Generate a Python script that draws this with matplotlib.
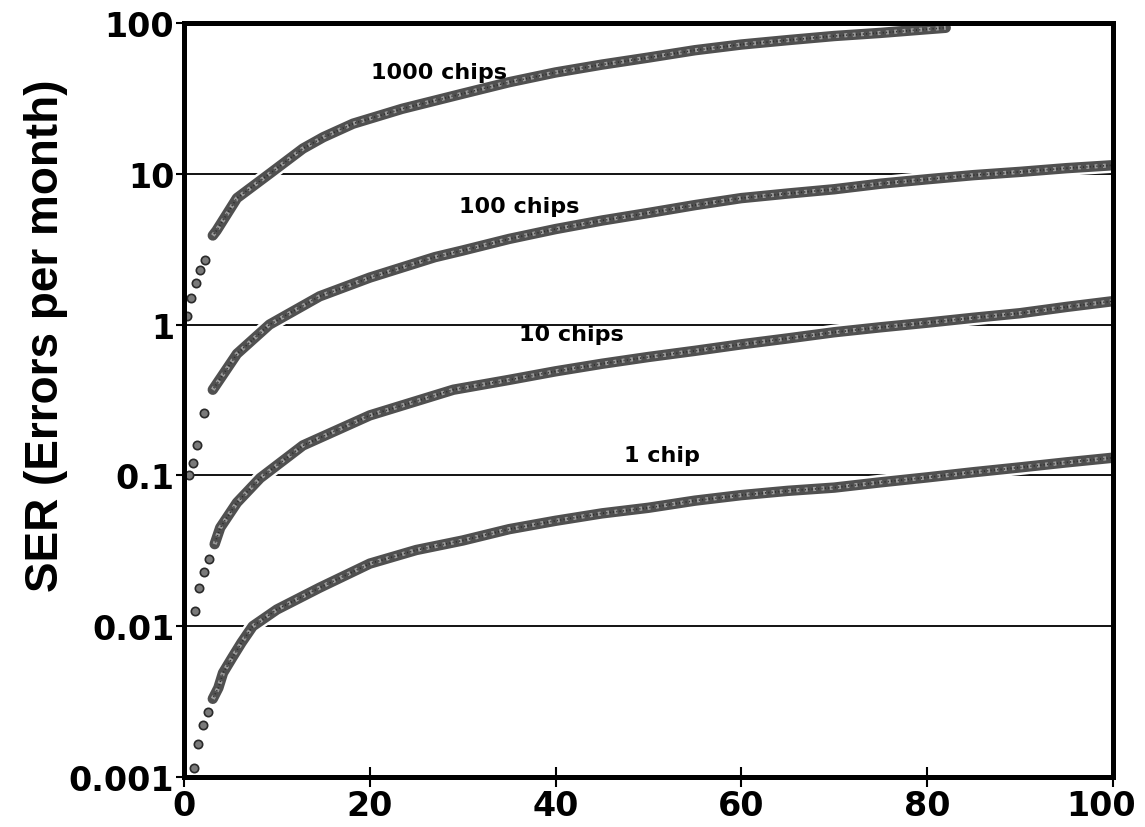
import numpy as np
import matplotlib
matplotlib.use("Agg")
import matplotlib.pyplot as plt
import matplotlib.patheffects as pe
from matplotlib.transforms import ScaledTranslation

# values (x = time, y = SER in errors per month)
x_1000 = [0.3, 0.75, 1.3, 1.7, 2.3, 3.1, 3.5, 5.7, 9.2, 12.8, 15, 18.2, 23.5, 30, 35, 40, 45, 50,
          55, 60, 65, 70, 75, 80, 82]
y_1000 = [1.14, 1.5, 1.9, 2.3, 2.7, 3.9, 4.2, 6.9, 10, 14.7, 17.5, 21.5, 27, 34, 40.5, 47, 53, 59,
          66, 72, 77, 82, 86, 91, 93]

x_100 = [0.5, 0.95, 1.4, 2.1, 3.1, 5.7, 9.2, 14.6, 20, 27, 30, 35, 40, 45, 50, 55, 60, 65, 70,
         75, 80, 85, 90, 95, 100]
y_100 = [0.1, 0.12, 0.16, 0.26, 0.37, 0.64, 1.0, 1.54, 2.05, 2.8, 3.1, 3.7, 4.3, 4.9, 5.5, 6.2,
         6.9, 7.4, 7.9, 8.6, 9.2, 9.8, 10.3, 10.9, 11.4]

x_10 = [1.2, 1.6, 2.1, 2.7, 3.3, 3.9, 5.7, 8.2, 12.8, 20, 29, 35, 40, 45, 50, 55, 60, 65, 70, 75,
        80, 85, 90, 95, 100]
y_10 = [0.0126, 0.018, 0.023, 0.028, 0.035, 0.045, 0.066, 0.096, 0.158, 0.25, 0.37, 0.43, 0.49,
        0.55, 0.61, 0.67, 0.74, 0.81, 0.89, 0.96, 1.03, 1.11, 1.19, 1.31, 1.43]

x_1 = [1.1, 1.5, 2.0, 2.6, 3.1, 3.7, 4.2, 5.2, 6.2, 7.4, 10, 14.6, 20, 25, 30, 35, 40, 45, 50, 55,
       60, 65, 70, 75, 80, 85, 90, 95, 100]
y_1 = [0.00114, 0.00166, 0.0022, 0.0027, 0.0033, 0.0039, 0.0049, 0.0062, 0.0078, 0.01, 0.0129,
       0.018, 0.026, 0.032, 0.037, 0.044, 0.05, 0.056, 0.061, 0.068, 0.074, 0.079, 0.083, 0.09,
       0.097, 0.105, 0.113, 0.122, 0.131]

curve_labels = ["1000 chips", "100 chips", "10 chips", "1 chip"]
label_x = [27.5, 36.1, 41.7, 51.5]
label_y = [47, 6.1, 0.86, 0.137]
y_ticks = [0.001, 0.01, 0.1, 1, 10, 100]
y_ticklabels = ["0.001", "0.01", "0.1", "1", "10", "100"]
x_ticks = [0, 20, 40, 60, 80, 100]

fig = plt.figure(figsize=(11.45, 8.28), dpi=100)
ax = fig.add_axes([0.1607, 0.0604, 0.8113, 0.9106])
ax.set_yscale("log")
ax.set_xlim(0, 100)
ax.set_ylim(0.001, 100)

halo = [pe.Stroke(linewidth=11, foreground="white"), pe.Normal()]

for xs, ys in [(x_1000, y_1000), (x_100, y_100), (x_10, y_10), (x_1, y_1)]:
    xs = np.array(xs)
    ys = np.array(ys)
    dense = xs >= 3
    # band of overlapping markers
    ax.plot(xs[dense], ys[dense], color="#505050", lw=7.5, solid_capstyle="round",
            solid_joinstyle="round", zorder=3, path_effects=halo)
    # speckle inside the band
    ax.plot(xs[dense], ys[dense], color="#9c9c9c", lw=3, ls=(0, (0.7, 1.3)),
            dash_joinstyle="round", zorder=4)
    ax.plot(xs[dense], ys[dense], color="#2c2c2c", lw=1.2, ls=(0.9, (0.6, 1.4)),
            zorder=4)
    ax.plot(xs[~dense], ys[~dense], "o", ms=6, mfc="#7a7a7a", mec="#2a2a2a",
            mew=1.2, zorder=4)

# horizontal reference lines
for v in y_ticks[1:-1]:
    ax.axhline(v, color="black", lw=1.3, zorder=1)

ax.set_yticks(y_ticks)
ax.set_yticklabels(y_ticklabels)
ax.yaxis.set_minor_locator(matplotlib.ticker.NullLocator())
ax.set_xticks(x_ticks)

ax.tick_params(axis="y", direction="out", length=6, width=1.5, pad=1)
ax.tick_params(axis="x", direction="inout", length=14, width=1.5, pad=2)

for lab in ax.get_yticklabels():
    lab.set_fontfamily("DejaVu Sans")
    lab.set_fontweight("bold")
    lab.set_fontsize(24)
xlabs = ax.get_xticklabels()
for lab in xlabs:
    lab.set_fontfamily("DejaVu Sans")
    lab.set_fontweight("bold")
    lab.set_fontsize(24)
# pull the last label in a little so it stays on the canvas
xlabs[-1].set_transform(xlabs[-1].get_transform() + ScaledTranslation(-0.12, 0, fig.dpi_scale_trans))

for s in ax.spines.values():
    s.set_linewidth(3.6)
    s.set_zorder(5)

fig.text(0.040, 0.594, "SER (Errors per month)", rotation=90, ha="center", va="center",
         fontfamily="Liberation Sans", fontweight="bold", fontsize=33)

for txt, lx, ly in zip(curve_labels, label_x, label_y):
    ax.text(lx, ly, txt, ha="center", va="center", fontfamily="DejaVu Sans",
            fontweight="bold", fontsize=16, zorder=6)

fig.savefig("out.png", dpi=100)
